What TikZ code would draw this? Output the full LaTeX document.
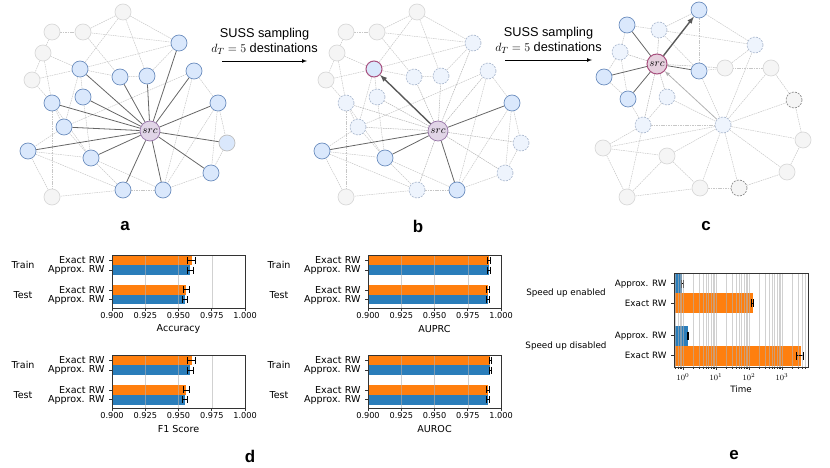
\documentclass[tikz,border=0pt]{standalone}
\usepackage{fontspec}
\setmainfont{Liberation Sans}
\newfontfamily\mplfont{DejaVu Sans}
\usetikzlibrary{backgrounds}

\definecolor{nodeblue}{HTML}{DAE8FC}
\definecolor{nodeblueline}{HTML}{6C8EBF}
\definecolor{nodegrey}{HTML}{F5F5F5}
\definecolor{nodegreyline}{HTML}{D9D9D9}
\definecolor{nodepale}{HTML}{EEF4FD}
\definecolor{nodepaleline}{HTML}{AEBBD0}
\definecolor{srcfill}{HTML}{E1D5E7}
\definecolor{srcline}{HTML}{9673A6}
\definecolor{pinkfill}{HTML}{E6D0DE}
\definecolor{pinkline}{HTML}{A8507E}
\definecolor{mplorange}{HTML}{FF7F0E}
\definecolor{mplblue}{HTML}{2A7DBA}

\tikzset{
  vtx/.style={circle, minimum size=16bp, inner sep=0pt, line width=0.7bp},
  nbrnode/.style={vtx, fill=nodeblue, draw=nodeblueline},
  nbrgrey/.style={vtx, fill=nodeblue, draw=black!25},
  farnode/.style={vtx, fill=nodegrey, draw=nodegreyline},
  fardash/.style={vtx, fill=nodegrey, draw=black!45, dash pattern=on 2bp off 1.2bp},
  unsampled/.style={vtx, fill=nodepale, draw=nodepaleline, dash pattern=on 2bp off 1.2bp},
  picknode/.style={vtx, fill=nodeblue, draw=pinkline, line width=1bp},
  srcnode/.style={vtx, minimum size=20bp, fill=srcfill, draw=srcline, font=\fontsize{11}{11}\selectfont},
  srcpink/.style={srcnode, fill=pinkfill, draw=pinkline, line width=1bp},
  lightedge/.style={draw=black!22, line width=0.5bp, dash pattern=on 1.6bp off 0.8bp},
  walkedge/.style={draw=black!60, line width=0.8bp},
  walkarrow/.style={->, draw=black!65, line width=1.4bp},
  oldarrow/.style={->, draw=black!30, line width=0.8bp},
  panel/.style={font=\fontsize{17}{20}\selectfont\bfseries},
  steplabel/.style={font=\fontsize{12.8}{14.5}\selectfont, align=center},
  ylab/.style={anchor=east, font=\mplfont\fontsize{9.6}{10}\selectfont},
  ticklab/.style={font=\mplfont\fontsize{8.2}{9}\selectfont},
  elab/.style={anchor=east, font=\mplfont\fontsize{8.8}{9}\selectfont},
  axisbox/.style={draw=black!80, line width=0.6bp},
  gridline/.style={draw=black!30, line width=0.5bp, opacity=0.6},
  errbar/.style={draw=black, line width=0.8bp}
}

% nodes of panels a and b: name/x/y/style in a/style in b
\def\nodesAB{g1/123/12/farnode/farnode, g2/52/32/farnode/farnode,
  g3/83/32/farnode/farnode, g4/43/53/farnode/farnode, g5/32/80/farnode/farnode,
  n1/179/43/nbrnode/unsampled, n2/80/69/nbrnode/picknode,
  n3/120/77/nbrnode/unsampled, n4/147/76/nbrnode/unsampled,
  n5/194/71/nbrnode/unsampled, n6/83/97/nbrnode/unsampled,
  n7/52/103/nbrnode/unsampled, n8/218/103/nbrnode/nbrnode,
  n9/64/127/nbrnode/unsampled, g6/227/143/nbrgrey/unsampled,
  n10/28/151/nbrnode/nbrnode, n11/91/158/nbrnode/nbrnode,
  n12/211/173/nbrnode/unsampled, n13/123/190/nbrnode/unsampled,
  n14/163/190/nbrnode/nbrnode, g7/52/197/farnode/farnode}
\def\edgesAB{g1/g3, g1/n1, g1/n2, g1/n4, g2/g4, g2/g3, g3/n1, g3/n3, g4/g5,
  g4/n2, g4/n7, g5/n2, g5/n7, n1/n2, n2/n3, n3/n4, n2/n6, n2/n9, n5/n9,
  n5/n8, n5/n14, n8/g6, n8/n12, g6/n12, n12/n14, n13/n14, n11/n13, n10/n11,
  n9/n10, n10/g7, n10/n13, n7/n9, n9/n11, n7/g7, n6/n11, n11/n14, n8/n14,
  n4/n1, n7/n11, n13/g7}

\begin{document}
\begin{tikzpicture}[>=latex, x=1bp, y=-1bp]
  \useasboundingbox (0,0) rectangle (830,468);

  % panels a and b
  \foreach \n/\x/\y/\sa/\sb in \nodesAB {
    \node[\sa] (a\n) at (\x,\y) {};
    \node[\sb] (b\n) at ({\x+294},\y) {};
  }
  \node[srcnode] (asrc) at (150,131) {$src$};
  \node[srcnode] (bsrc) at (438,131) {$src$};
  \begin{scope}[on background layer]
    \foreach \u/\w in \edgesAB {
      \draw[lightedge] (a\u) -- (a\w);
      \draw[lightedge] (b\u) -- (b\w);
    }
    \foreach \w in {n1,n2,n3,n4,n5,n6,n7,n8,n9,n10,n11,n12,n13,n14,g6}
      \draw[walkedge] (asrc) -- (a\w);
    \foreach \w in {n8,n10,n11,n14}
      \draw[walkedge] (bsrc) -- (b\w);
    \foreach \w in {n1,n3,n4,n5,n6,n7,n9,n12,n13,g6}
      \draw[lightedge, draw=black!30] (bsrc) -- (b\w);
  \end{scope}
  \draw[walkarrow] (bsrc) -- (bn2);

  % panel c
  \foreach \n/\x/\y/\s in {t1/699/10/nbrnode, t2/627/25/nbrnode,
      p1/659/30/unsampled, p2/755/45/unsampled, p3/620/52/unsampled,
      t3/699/71/nbrnode, q1/725/68/farnode, q2/771/68/farnode,
      t4/604/77/nbrnode, t5/628/99/nbrnode, p4/667/97/unsampled,
      q3/794/100/fardash, p5/643/125/unsampled, o/723/125/unsampled,
      q4/803/140/farnode, q5/603/148/farnode, q6/667/156/farnode,
      q7/787/172/farnode, q8/700/188/farnode, q9/739/188/fardash,
      q10/627/197/farnode}
    \node[\s] (c\n) at (\x,\y) {};
  \node[srcpink] (csrc) at (657,64) {$src$};
  \begin{scope}[on background layer]
    \foreach \u/\w in {t2/p1, p1/t1, t1/p2, p1/p2, t2/p3, p3/t4, t4/t5,
        t5/p5, p5/o, o/p4, o/p2, o/q2, o/q3, o/q4, o/q5, o/q6, o/q7, o/q8,
        o/q9, o/t3, p5/q5, q5/q6, q5/q10, q6/q8, q8/q9, q9/q7, q7/q4, q4/q3,
        q3/q2, q2/q1, q1/t3, t3/p1, q6/q10, p5/q10, t1/t3, p3/t5, q1/p2,
        q10/q8, p4/p5}
      \draw[lightedge] (c\u) -- (c\w);
    \foreach \w in {p1,p3,p4,p5,q1}
      \draw[lightedge, draw=black!30] (csrc) -- (c\w);
    \foreach \w in {t2,t3,t4,t5}
      \draw[walkedge] (csrc) -- (c\w);
  \end{scope}
  \draw[walkarrow] (csrc) -- (ct1);
  \draw[oldarrow] (co) -- (csrc);

  % sampling steps
  \coordinate (stepAs) at (222,61);
  \coordinate (stepAe) at (307,61);
  \coordinate (stepBs) at (505,60);
  \coordinate (stepBe) at (592,60);
  \draw[->, line width=0.7bp] (stepAs) -- node[steplabel, above=3bp] (stepAtext)
    {SUSS sampling\\$d_T = 5$ destinations} (stepAe);
  \draw[->, line width=0.7bp] (stepBs) -- node[steplabel, above=3bp] (stepBtext)
    {SUSS sampling\\$d_T = 5$ destinations} (stepBe);

  % panel d: four metric charts
  \foreach \cx/\cy/\metric/\va/\vb/\vc/\vd/\ea/\eb/\ec/\ed in {
      112/255/Accuracy/0.960/0.959/0.956/0.955/0.003/0.002/0.002/0.002,
      368/255/AUPRC/0.991/0.991/0.990/0.990/0.001/0.001/0.001/0.001,
      112/355/F1 Score/0.960/0.959/0.956/0.955/0.003/0.002/0.002/0.002,
      368/355/AUROC/0.992/0.992/0.990/0.990/0.001/0.001/0.001/0.001} {
    \foreach \r/\off/\v/\e/\col/\lbl in {1/0.5/\va/\ea/mplorange/Exact RW,
        2/10.25/\vb/\eb/mplblue/Approx. RW, 3/30/\vc/\ec/mplorange/Exact RW,
        4/39.75/\vd/\ed/mplblue/Approx. RW} {
      \pgfmathsetmacro\xe{\cx+(\v-0.9)*1330}
      \pgfmathsetmacro\xl{\cx+(\v-\e-0.9)*1330}
      \pgfmathsetmacro\xr{\cx+(\v+\e-0.9)*1330}
      \pgfmathsetmacro\ym{\cy+\off+4.9}
      \fill[\col] (\cx,\cy+\off) rectangle (\xe,\cy+\off+9.75);
      \draw[errbar] (\xl,\ym-3.5) -- (\xl,\ym+3.5) (\xl,\ym) -- (\xr,\ym)
        (\xr,\ym-3.5) -- (\xr,\ym+3.5);
      \draw[axisbox] (\cx-3,\ym) -- (\cx,\ym);
      \node[ylab] (yl\cx\cy\r) at (\cx-4,\ym) {\lbl};
    }
    \node[ylab, anchor=center] (train\cx\cy) at (\cx-89,\cy+10) {Train};
    \node[ylab, anchor=center] (test\cx\cy) at (\cx-89,\cy+40) {Test};
    \foreach \g in {0.925,0.950,0.975}
      \draw[gridline] ({\cx+(\g-0.9)*1330},\cy) -- ++(0,53);
    \draw[axisbox] (\cx,\cy) rectangle ++(133,53);
    \foreach \t [count=\k] in {0.900,0.925,0.950,0.975,1.000} {
      \draw[axisbox] ({\cx+(\t-0.9)*1330},\cy+53) -- ++(0,3);
      \node[ticklab] (tk\cx\cy\k) at ({\cx+(\t-0.9)*1330},\cy+61) {\t};
    }
    \node[ylab, anchor=center] (metric\cx\cy) at (\cx+66.5,\cy+74) {\metric};
  }

  % panel e: running time, log axis
  \foreach \r/\yt/\v/\e/\col/\lbl in {1/274/0.95/0.05/mplblue/Approx. RW,
      2/293.5/130/10/mplorange/Exact RW, 3/326/1.4/0.06/mplblue/Approx. RW,
      4/346/3700/900/mplorange/Exact RW} {
    \pgfmathsetmacro\xe{683+33*log10(\v)}
    \pgfmathsetmacro\xl{683+33*log10(\v-\e)}
    \pgfmathsetmacro\xr{683+33*log10(\v+\e)}
    \pgfmathsetmacro\ym{\yt+9.8}
    \fill[\col] (674,\yt) rectangle (\xe,\yt+19.6);
    \draw[errbar] (\xl,\ym-4) -- (\xl,\ym+4) (\xl,\ym) -- (\xr,\ym)
      (\xr,\ym-4) -- (\xr,\ym+4);
    \draw[axisbox] (671,\ym) -- (674,\ym);
    \node[elab] (el\r) at (670,\ym) {\lbl};
  }
  \foreach \d in {-1,0,1,2,3}
    \foreach \m in {1,...,9} {
      \pgfmathsetmacro\gx{683+33*(\d+log10(\m))}
      \ifdim\gx pt>674.5pt \ifdim\gx pt<807.5pt
        \draw[gridline] (\gx,273) -- (\gx,367);
        \draw[axisbox, line width=0.4bp] (\gx,367) -- (\gx,369);
      \fi\fi
    }
  \draw[axisbox] (674,273) rectangle (808,367);
  \foreach \d in {0,1,2,3} {
    \draw[axisbox] ({683+33*\d},367) -- ++(0,3.5);
    \node[ticklab] (etk\d) at ({683+33*\d},377) {$10^{\d}$};
  }
  \node[elab, anchor=center] (etime) at (741,389) {Time};
  \node[elab, anchor=center] (speedon) at (566,293) {Speed up enabled};
  \node[elab, anchor=center] (speedoff) at (566,346) {Speed up disabled};

  % panel letters
  \node[panel] (lbla) at (125,226) {a};
  \node[panel] (lblb) at (418,226) {b};
  \node[panel] (lblc) at (706,226) {c};
  \node[panel] (lbld) at (250,456) {d};
  \node[panel] (lble) at (734,455) {e};
\end{tikzpicture}
\end{document}
